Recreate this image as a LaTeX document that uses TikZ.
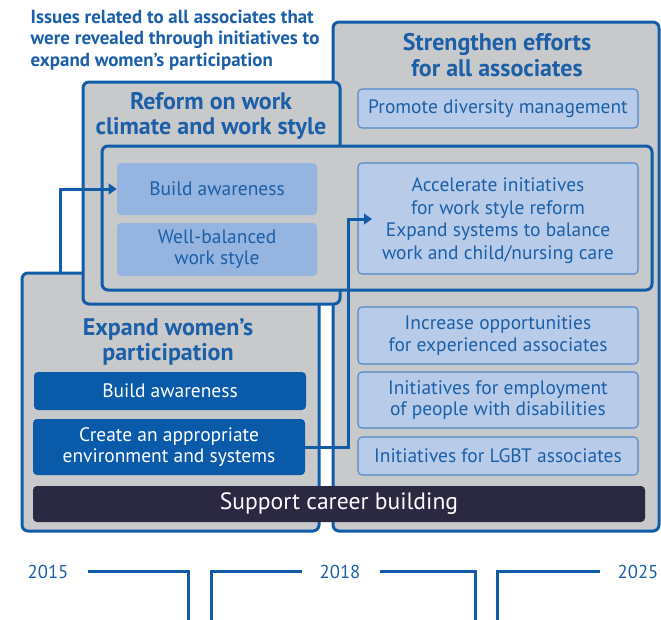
\documentclass[tikz,border=0pt]{standalone}
\usepackage{fontspec}
\setmainfont{PT Sans}
\usetikzlibrary{arrows.meta}
\definecolor{mainblue}{RGB}{16,92,168}
\definecolor{panelgray}{RGB}{200,201,203}
\definecolor{textblue}{RGB}{27,95,168}
\definecolor{lightfill}{RGB}{184,204,233}
\definecolor{lightedge}{RGB}{80,135,200}
\definecolor{midfill}{RGB}{149,180,223}
\definecolor{darkfill}{RGB}{10,90,170}
\definecolor{navy}{RGB}{43,40,66}
\tikzset{
  boxfont/.style={font=\fontsize{14.6}{16}\selectfont},
  panel/.style={draw=mainblue, fill=panelgray, line width=2.25pt, rounded corners=4.5pt, inner sep=0pt},
  lightbox/.style={draw=lightedge, fill=lightfill, line width=0.8pt, rounded corners=3pt, text=textblue, align=center, boxfont, inner sep=0pt},
  midbox/.style={fill=midfill, rounded corners=3pt, text=textblue, align=center, boxfont, inner sep=0pt},
  darkbox/.style={fill=darkfill, rounded corners=3pt, text=white, align=center, boxfont, inner sep=0pt},
  title/.style={text=textblue, align=center, font=\bfseries\fontsize{18}{18.9}\selectfont},
  link/.style={draw=mainblue, line width=2.25pt, -{Triangle[length=6pt,width=8pt]}},
  tline/.style={draw=mainblue, line width=2.25pt},
  year/.style={text=textblue, font=\fontsize{14}{16}\selectfont}
}
\begin{document}
\begin{tikzpicture}[x=0.75pt,y=-0.75pt]
\useasboundingbox[fill=white] (0,0) rectangle (661,619);
% main panels
\node[panel, minimum width=326*0.75pt, minimum height=509*0.75pt] (S) at (496,276.5) {};
\node[panel, minimum width=297*0.75pt, minimum height=258*0.75pt] (E) at (170.5,402) {};
\node[panel, minimum width=257*0.75pt, minimum height=222*0.75pt] (R) at (211.5,193) {};
\node[panel, minimum width=550*0.75pt, minimum height=144*0.75pt] (I) at (377,218) {};
% titles
\node[text=textblue, align=left, anchor=west, font=\bfseries\fontsize{14.2}{15.9}\selectfont] (issues) at (26,40) {Issues related to all associates that\\were revealed through initiatives to\\expand women's participation};
\node[title] (St) at (497,55) {Strengthen efforts\\for all associates};
\node[title] (Rt) at (211,116) {Reform on work\\climate and work style};
\node[title] (Et) at (168,342) {Expand women's\\participation};
% right boxes
\node[lightbox, minimum width=280*0.75pt, minimum height=39*0.75pt] (Promote) at (498,108.5) {Promote diversity management};
\node[lightbox, minimum width=280*0.75pt, minimum height=111*0.75pt, font=\fontsize{14.6}{17}\selectfont, text depth=0pt] (Accel) at (498,218.5) {Accelerate initiatives\\for work style reform\\Expand systems to balance\\work and child/nursing care};
\node[lightbox, minimum width=280*0.75pt, minimum height=57*0.75pt] (Incr) at (498,335.5) {Increase opportunities\\for experienced associates};
\node[lightbox, minimum width=280*0.75pt, minimum height=56*0.75pt] (Empl) at (498,400) {Initiatives for employment\\of people with disabilities};
\node[lightbox, minimum width=280*0.75pt, minimum height=38*0.75pt] (LGBT) at (498,456) {Initiatives for LGBT associates};
% reform boxes
\node[midbox, minimum width=200*0.75pt, minimum height=52*0.75pt] (RBuild) at (217,189) {Build awareness};
\node[midbox, minimum width=200*0.75pt, minimum height=53*0.75pt] (RWell) at (217,249.5) {Well-balanced\\work style};
% expand boxes
\node[darkbox, minimum width=272*0.75pt, minimum height=38*0.75pt] (EBuild) at (170,391) {Build awareness};
\node[darkbox, minimum width=272*0.75pt, minimum height=56*0.75pt] (ECreate) at (169,447) {Create an appropriate\\environment and systems};
\node[fill=navy, rounded corners=3pt, text=white, font=\fontsize{17.7}{18}\selectfont, inner sep=0pt, minimum width=612*0.75pt, minimum height=36*0.75pt] (Support) at (339,504) {Support career building};
% arrows
\coordinate (a1s) at (60,273);
\draw[link] (a1s) |- (RBuild.west);
\coordinate (k2) at (348,219);
\coordinate (t2) at (372,219);
\draw[link] (ECreate.east) -| (k2) -- (t2);
% timeline
\node[year] (y15) at (48,572) {2015};
\node[year] (y18) at (340,572) {2018};
\node[year] (y25) at (638,572) {2025};
\coordinate (b1) at (188,622);
\coordinate (b2) at (211,622);
\coordinate (b3) at (475,622);
\coordinate (b4) at (497,622);
\draw[tline] ([xshift=11pt]y15.east |- 0,571) -| (b1);
\draw[tline] (b2) |- ([xshift=-10pt]y18.west |- 0,571);
\draw[tline] ([xshift=11pt]y18.east |- 0,571) -| (b3);
\draw[tline] (b4) |- ([xshift=-10pt]y25.west |- 0,571);
\end{tikzpicture}
\end{document}
